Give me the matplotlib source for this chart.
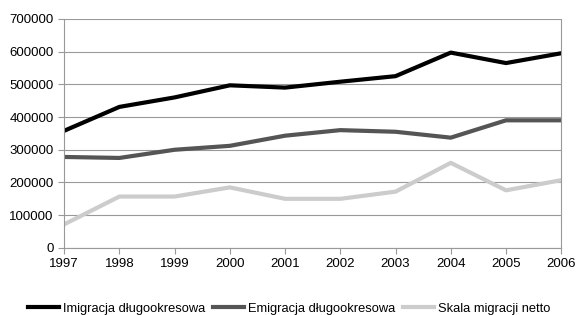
import matplotlib.pyplot as plt

plt.rcParams['font.family'] = ['Liberation Sans', 'DejaVu Sans']

years = [1997, 1998, 1999, 2000, 2001, 2002, 2003, 2004, 2005, 2006]
imigracja = [358000, 431000, 460000, 497000, 490000, 508000, 525000, 597000, 565000, 595000]
emigracja = [278000, 275000, 300000, 312000, 343000, 360000, 355000, 337000, 390000, 390000]
skala = [72000, 157000, 157000, 185000, 150000, 150000, 172000, 260000, 176000, 207000]

fig = plt.figure(figsize=(5.78, 3.15), dpi=100)
ax = fig.add_axes([0.111, 0.213, 0.860, 0.727])

ax.plot(years, imigracja, color="black", lw=3, label="Imigracja długookresowa")
ax.plot(years, emigracja, color="#555555", lw=3, label="Emigracja długookresowa")
ax.plot(years, skala, color="#cccccc", lw=3, label="Skala migracji netto")

ax.set_xlim(1997, 2006)
ax.set_ylim(0, 700000)
ax.set_xticks(years)
ax.set_yticks(range(0, 700001, 100000))
ax.yaxis.grid(True, color="#999999", lw=0.8)
ax.set_axisbelow(True)
ax.spines["top"].set_visible(False)
for s in ["left", "right", "bottom"]:
    ax.spines[s].set_color("#999999")
ax.tick_params(axis="both", colors="#999999", labelcolor="black", labelsize=9.5, length=4)

fig.legend(loc="center", bbox_to_anchor=(0.5, 0.02), ncol=3, frameon=False,
           fontsize=9.3, handlelength=2.4, handletextpad=0.3, columnspacing=0.6)

fig.savefig("out.png", dpi=100)
